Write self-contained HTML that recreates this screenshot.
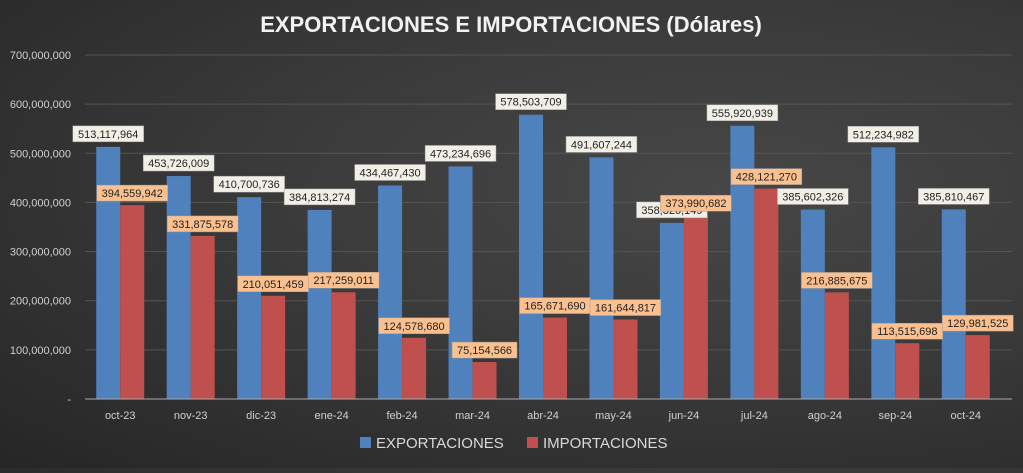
<!DOCTYPE html>
<html><head><meta charset="utf-8"><style>
html,body{margin:0;padding:0}
body{width:1023px;height:468px;overflow:hidden;background:radial-gradient(ellipse at 70% 40%,#474747 0%,#3a3a3a 45%,#262626 100%);font-family:"Liberation Sans",sans-serif}
</style></head><body>
<svg id="chart" width="1023" height="468" xmlns="http://www.w3.org/2000/svg"></svg>
<script>
const categories=["oct-23","nov-23","dic-23","ene-24","feb-24","mar-24","abr-24","may-24","jun-24","jul-24","ago-24","sep-24","oct-24"];
const exportaciones=[513117964,453726009,410700736,384813274,434467430,473234696,578503709,491607244,358320149,555920939,385602326,512234982,385810467];
const importaciones=[394559942,331875578,210051459,217259011,124578680,75154566,165671690,161644817,373990682,428121270,216885675,113515698,129981525];
const ticks=[0,100000000,200000000,300000000,400000000,500000000,600000000,700000000];
const NS="http://www.w3.org/2000/svg";
const svg=document.getElementById('chart');
const L=85,R=1001,Y0=399,Ytop=55,MAX=700000000;
const cw=(R-L)/categories.length;
const y=v=>Y0-(v/MAX)*(Y0-Ytop);
const xc=i=>L+cw*(i+0.5);
const fmt=v=>v.toLocaleString('en-US');
function el(t,a,txt){const e=document.createElementNS(NS,t);for(const k in a)e.setAttribute(k,a[k]);if(txt!==undefined)e.textContent=txt;svg.appendChild(e);return e;}
let t=el('text',{x:511,y:32,'text-anchor':'middle',fill:'#f2f2f2','font-size':22,'font-weight':'bold'},'EXPORTACIONES E IMPORTACIONES (Dólares)');


ticks.forEach(v=>{
  if(v>0){const g=el('line',{x1:L,x2:1012,y1:y(v),y2:y(v),stroke:'#555','stroke-width':1});
  
  }
  const tl=el('text',{x:71,y:y(v)+4,'text-anchor':'end',fill:'#d0d0d0','font-size':11},v===0?'-':fmt(v));
  
  
});
const bw=24;
function label(cx,cy,txt,fill,name){
  const w=txt.length*5.9+6;
  const r=el('rect',{x:cx-w/2,y:cy-8,width:w,height:16,fill:fill,stroke:'#999','stroke-width':0.5});
  
  
  const tt=el('text',{x:cx,y:cy+4,'text-anchor':'middle',fill:'#222','font-size':11},txt);
  
  
}
categories.forEach((c,i)=>{
  const cx=xc(i);
  const b=el('rect',{x:cx-bw,y:y(exportaciones[i]),width:bw,height:Y0-y(exportaciones[i]),fill:'#4f81bd'});
  
  
  const r=el('rect',{x:cx,y:y(importaciones[i]),width:bw,height:Y0-y(importaciones[i]),fill:'#c0504d'});
  
  
  const xl=el('text',{x:cx,y:419,'text-anchor':'middle',fill:'#d0d0d0','font-size':11},c);
  
  
});
const ax=el('line',{x1:L,x2:1012,y1:Y0,y2:Y0,stroke:'#aaa','stroke-width':1});


categories.forEach((c,i)=>{
  const cx=xc(i);
  label(cx-bw/2,y(exportaciones[i])-13,fmt(exportaciones[i]),'#f2f0e6','label-exportaciones');
  label(cx+bw/2,y(importaciones[i])-12,fmt(importaciones[i]),'#fbc08f','label-importaciones');
});
const lb=el('rect',{x:360,y:437,width:11,height:11,fill:'#4f81bd'});


const lt=el('text',{x:376,y:448,fill:'#d9d9d9','font-size':15},'EXPORTACIONES');


const lr=el('rect',{x:527,y:437,width:11,height:11,fill:'#c0504d'});


const lt2=el('text',{x:543,y:448,fill:'#d9d9d9','font-size':15},'IMPORTACIONES');


</script>
</body></html>
